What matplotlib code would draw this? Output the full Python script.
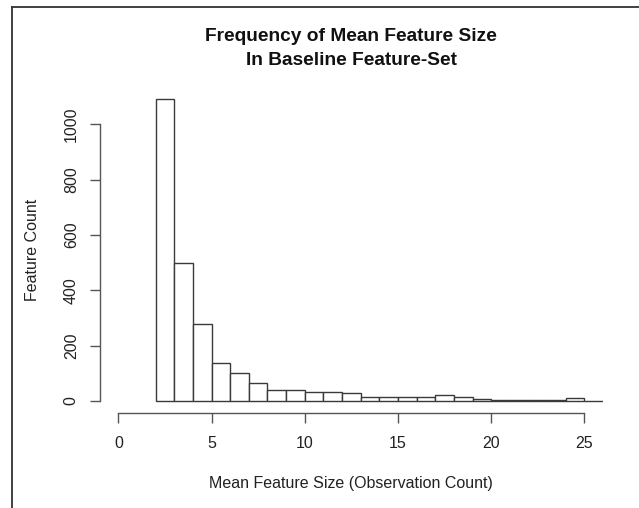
import numpy as np
import matplotlib
matplotlib.use("Agg")
import matplotlib.pyplot as plt
from matplotlib.lines import Line2D

# Data
bin_edges = list(range(2, 27))
counts = [1090, 500, 278, 136, 102, 64, 39, 40, 31, 34, 28, 13, 13, 13, 13, 20,
          13, 8, 5, 5, 4, 2, 12, 1]
x_ticks = [0, 5, 10, 15, 20, 25]
y_ticks = [0, 200, 400, 600, 800, 1000]
title_lines = ["Frequency of Mean Feature Size", "In Baseline Feature-Set"]
xlabel = "Mean Feature Size (Observation Count)"
ylabel = "Feature Count"

plt.rcParams['font.family'] = ['Liberation Sans', 'DejaVu Sans']

W, H = 639, 508
fig = plt.figure(figsize=(W / 100, H / 100), dpi=100)
fig.patch.set_facecolor('white')

left_px, right_px = 99.7, 603.0
top_px, bottom_px = 87.3, 413.0
ax = fig.add_axes([left_px / W, 1 - bottom_px / H,
                   (right_px - left_px) / W, (bottom_px - top_px) / H])
ax.set_facecolor('none')

edges = np.array(bin_edges)
ax.bar(edges[:-1], counts, width=np.diff(edges), align='edge',
       facecolor='white', edgecolor='#3a3a3a', linewidth=1.0, clip_on=True)

ax.set_xlim(-1, 26)
ax.set_ylim(-43.6, 1133.6)

for s in ['top', 'right']:
    ax.spines[s].set_visible(False)
ax.spines['left'].set_bounds(0, 1000)
ax.spines['bottom'].set_bounds(0, 25)
for s in ['left', 'bottom']:
    ax.spines[s].set_color('#555555')
    ax.spines[s].set_linewidth(1.0)

ax.set_xticks(x_ticks)
ax.set_yticks(y_ticks)
ax.set_xticklabels([str(t) for t in x_ticks])
ax.set_yticklabels([str(t) for t in y_ticks], rotation=90, va='center')
ax.tick_params(axis='both', length=7, width=1.0, color='#555555',
               labelsize=11.5, labelcolor='#222222')
ax.tick_params(axis='x', pad=9.5)
ax.tick_params(axis='y', pad=8)

ax.set_xlabel(xlabel, fontsize=11.5, color='#222222', labelpad=18)
ax.set_ylabel(ylabel, fontsize=11.5, color='#222222', labelpad=17)

cx = (left_px + right_px) / 2 / W
for line, yc in zip(title_lines, [36.7, 60.7]):
    fig.text(cx, 1 - yc / H, line, ha='center', va='center',
             fontsize=13.8, fontweight='bold', color='#111111')

fig.add_artist(Line2D([12 / W, 12 / W], [0, 1 - 7 / H], color='#333333', lw=1.3))
fig.add_artist(Line2D([12 / W, 1], [1 - 7 / H, 1 - 7 / H], color='#333333', lw=1.3))

fig.savefig('out.png', dpi=100)
